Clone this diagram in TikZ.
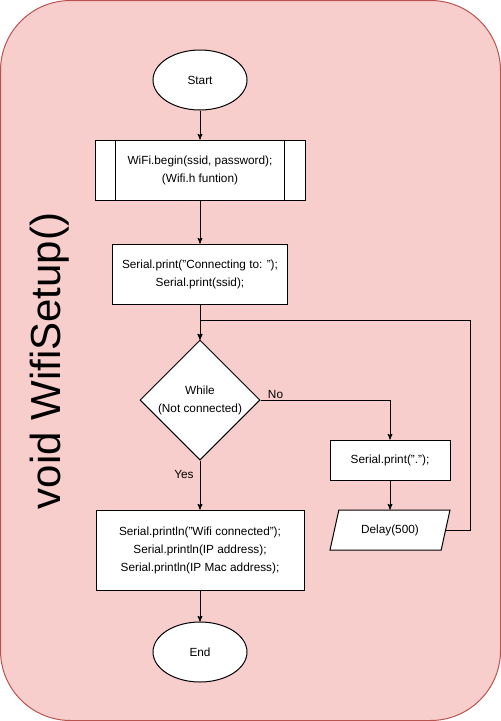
\documentclass[tikz,border=0pt]{standalone}
\usepackage{fontspec}
\setmainfont{Liberation Sans}
\usepackage{xcolor}
\usetikzlibrary{arrows}
\usetikzlibrary{shapes,backgrounds,positioning}

\definecolor{framefill}{HTML}{F8CECC}
\definecolor{frameline}{HTML}{B85450}

\begin{document}
\begin{tikzpicture}[x=1pt,y=-1pt,->,>=stealth',line width=1pt,
                    every node/.style={font=\fontsize{11.8}{18}\selectfont},
                    term node/.style={ellipse,draw,fill=white,minimum width=94pt,minimum height=60pt},
                    proc node/.style={rectangle,draw,fill=white,align=center,minimum height=60pt},
                    cond node/.style={diamond,draw,fill=white,align=center,inner sep=0pt,
                                      minimum width=120pt,minimum height=120pt},
                    io node/.style={trapezium,draw,fill=white,trapezium left angle=63.4,
                                    trapezium right angle=116.6,trapezium stretches body,
                                    minimum width=120pt,minimum height=40pt}]

  \useasboundingbox (0,0) rectangle (501,721);
  \draw[-,draw=frameline,fill=framefill,rounded corners=70pt] (0.5,0.5) rectangle (500.5,720.5);

  \node[rotate=90,anchor=base,inner sep=0pt,font=\fontsize{42}{42}\selectfont] (title) at (60,361) {void WifiSetup()};

  \node[term node] (1) at (200,80) {Start};
  \node[proc node,minimum width=210pt] (2) [below of=1,node distance=90pt]
    {WiFi.begin(ssid, password);\\(Wifi.h funtion)};
  \node[proc node,minimum width=175pt] (3) [below of=2,node distance=104pt]
    {Serial.print("Connecting to: ");\\Serial.print(ssid);};
  \node[cond node] (4) [below of=3,node distance=126pt] {While\\(Not connected)};
  \node[proc node,minimum width=208pt,minimum height=80pt] (5) [below of=4,node distance=150pt]
    {Serial.println("Wifi connected");\\Serial.println(IP address);\\Serial.println(IP Mac address);};
  \node[term node] (8) [below of=5,node distance=102pt] {End};
  \node[proc node,minimum width=120pt,minimum height=40pt] (6) at (390,460) {Serial.print(".");};
  \node[io node] (7) [below of=6,node distance=70pt] {Delay(500)};

  % double sides of the predefined process
  \draw[-] ([xshift=21pt]2.north west) -- ([xshift=21pt]2.south west);
  \draw[-] ([xshift=-21pt]2.north east) -- ([xshift=-21pt]2.south east);

  \coordinate (loop) at (470,320);

  \path
    (1) edge (2)
    (2) edge (3)
    (3) edge (4)
    (6) edge (7)
    (5) edge (8)
    (4) edge node[pos=0.28,left,inner sep=6pt] {Yes} (5)
    ;
  \draw (4.east) -| node[pos=0.058,above,inner sep=0.5pt] {No} (6.north);
  \draw (7.east) -| (loop) -- (loop -| 4.north) -- (4.north);
\end{tikzpicture}
\end{document}
